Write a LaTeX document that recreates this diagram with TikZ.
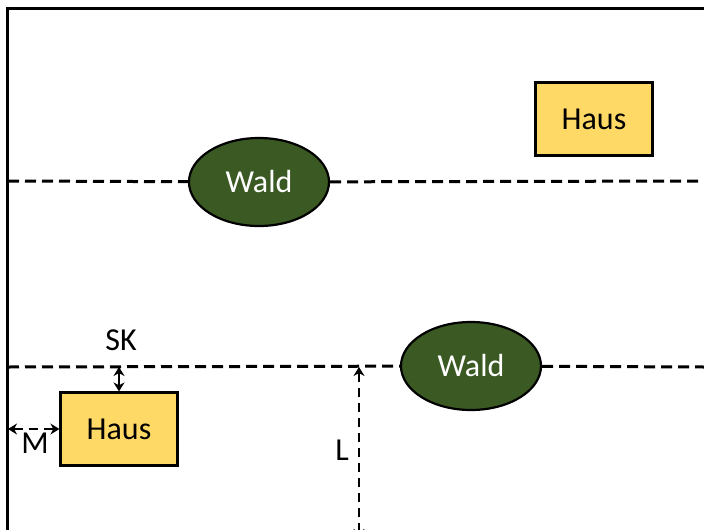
\documentclass[tikz,border=0pt]{standalone}
\usepackage{fontspec}
\setmainfont{Carlito}
\usetikzlibrary{arrows.meta,positioning,shapes.geometric}
\definecolor{hausGelb}{HTML}{FFD966}
\definecolor{waldGruen}{HTML}{3B5A23}

\begin{document}
\begin{tikzpicture}[x=1pt,y=-1pt,font=\fontsize{32}{38}\selectfont,
    haus/.style={draw=black,line width=2.2pt,fill=hausGelb,minimum width=117pt,minimum height=73pt,inner sep=0pt},
    wald/.style={ellipse,draw=black,line width=2.2pt,fill=waldGruen,text=white,minimum width=140pt,minimum height=88pt,inner sep=0pt},
    grenze/.style={dashed,line width=3pt,dash pattern=on 11pt off 6pt},
    mass/.style={dashed,line width=2.6pt,dash pattern=on 9pt off 6pt,{Stealth[length=9pt,width=11pt]}-{Stealth[length=9pt,width=11pt]}}]
  \useasboundingbox (0,0) rectangle (704,530);

  % frame: left and top edge
  \draw[line width=3pt] (7,532) -- (7,8) -- (706,8);

  % upper row
  \node[haus] (haus1) at (594,119) {Haus};
  \node[wald] (wald1) at (259,182) {Wald};
  \coordinate (l1) at (8,181);
  \coordinate (r1) at (704,181);
  \draw[grenze] (l1) -- (wald1);
  \draw[grenze] (wald1) -- (r1);

  % lower row
  \node[wald] (wald2) at (471,366) {Wald};
  \node[haus] (haus2) at (119,429) {Haus};
  \coordinate (l2) at (8,367);
  \coordinate (r2) at (704,367);
  \draw[grenze] (l2) -- (wald2);
  \draw[grenze] (wald2) -- (r2);

  % distances
  \coordinate (sk) at (119,367);
  \coordinate (m) at (8,429);
  \coordinate (lo) at (359,367);
  \coordinate (lu) at (359,538);
  \draw[{Stealth[length=9pt,width=11pt]}-{Stealth[length=9pt,width=11pt]},line width=2pt] (sk) -- (haus2.north);
  \draw[mass] (m) -- (haus2.west);
  \draw[mass] (lu) -- (lo);
  \node (sklab) at (121,340) {SK};
  \node (mlab) at (35,443) {M};
  \node (llab) at (342,450) {L};
\end{tikzpicture}
\end{document}
